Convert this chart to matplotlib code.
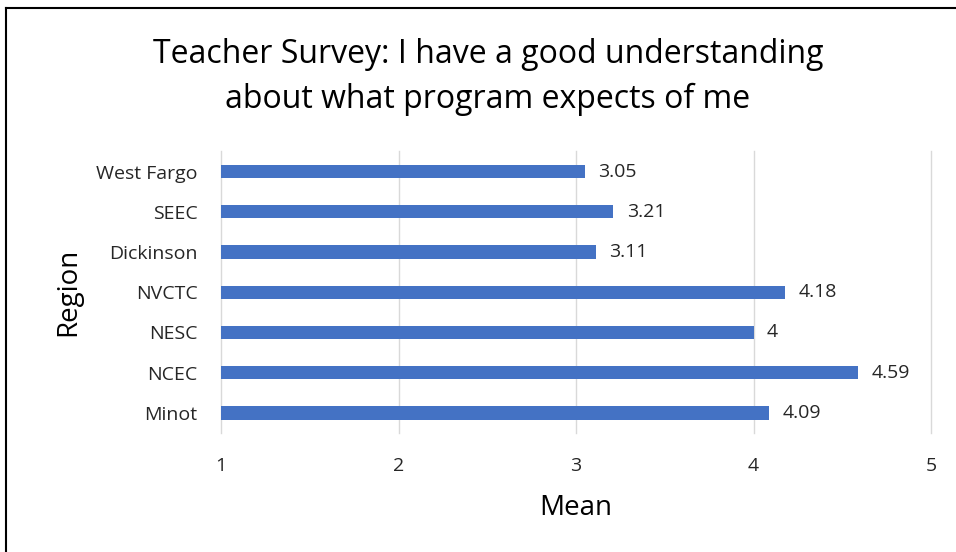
import matplotlib.pyplot as plt
from matplotlib.lines import Line2D

regions = ["Minot", "NCEC", "NESC", "NVCTC", "Dickinson", "SEEC", "West Fargo"]
means = [4.09, 4.59, 4.00, 4.18, 3.11, 3.21, 3.05]
labels = ["4.09", "4.59", "4", "4.18", "3.11", "3.21", "3.05"]
xticks = [1, 2, 3, 4, 5]

plt.rcParams['font.family'] = ['Open Sans', 'DejaVu Sans']

fig = plt.figure(figsize=(9.56, 5.52), dpi=100)
ax = fig.add_axes([221 / 956, (552 - 433) / 552, 710 / 956, 281.5 / 552])

y = range(len(regions))
ax.barh(y, [m - 1 for m in means], left=1, height=0.33, color="#4472C4", zorder=3)
for i, (m, lab) in enumerate(zip(means, labels)):
    ax.text(m + 0.075, i, lab, va="center", ha="left", fontsize=14, color="#262626")

ax.set_xlim(1, 5)
ax.set_ylim(-0.5, len(regions) - 0.5)
ax.set_xticks(xticks)
ax.set_xticklabels([str(t) for t in xticks])
ax.set_yticks(list(y))
ax.set_yticklabels(regions)
ax.tick_params(axis="both", length=0, labelsize=14, colors="#262626")
ax.tick_params(axis="x", pad=17)
ax.tick_params(axis="y", pad=17)
ax.grid(axis="x", color="#D9D9D9", linewidth=1, zorder=0)
for gl in ax.get_xgridlines():
    gl.set_clip_on(False)
for s in ax.spines.values():
    s.set_visible(False)

ax.set_xlabel("Mean", fontsize=20, labelpad=14)
ax.set_ylabel("Region", fontsize=20, labelpad=10)

fig.text(488 / 956, 1 - 77 / 552, "Teacher Survey: I have a good understanding\nabout what program expects of me",
         ha="center", va="center", fontsize=23, linespacing=1.45)

# chart border (top and left only visible)
fig.add_artist(Line2D([6 / 956, 6 / 956], [0, 1 - 8 / 552], color="black", linewidth=1.5, transform=fig.transFigure))
fig.add_artist(Line2D([6 / 956, 1], [1 - 8 / 552, 1 - 8 / 552], color="black", linewidth=1.5, transform=fig.transFigure))

fig.savefig("out.png", dpi=100)
